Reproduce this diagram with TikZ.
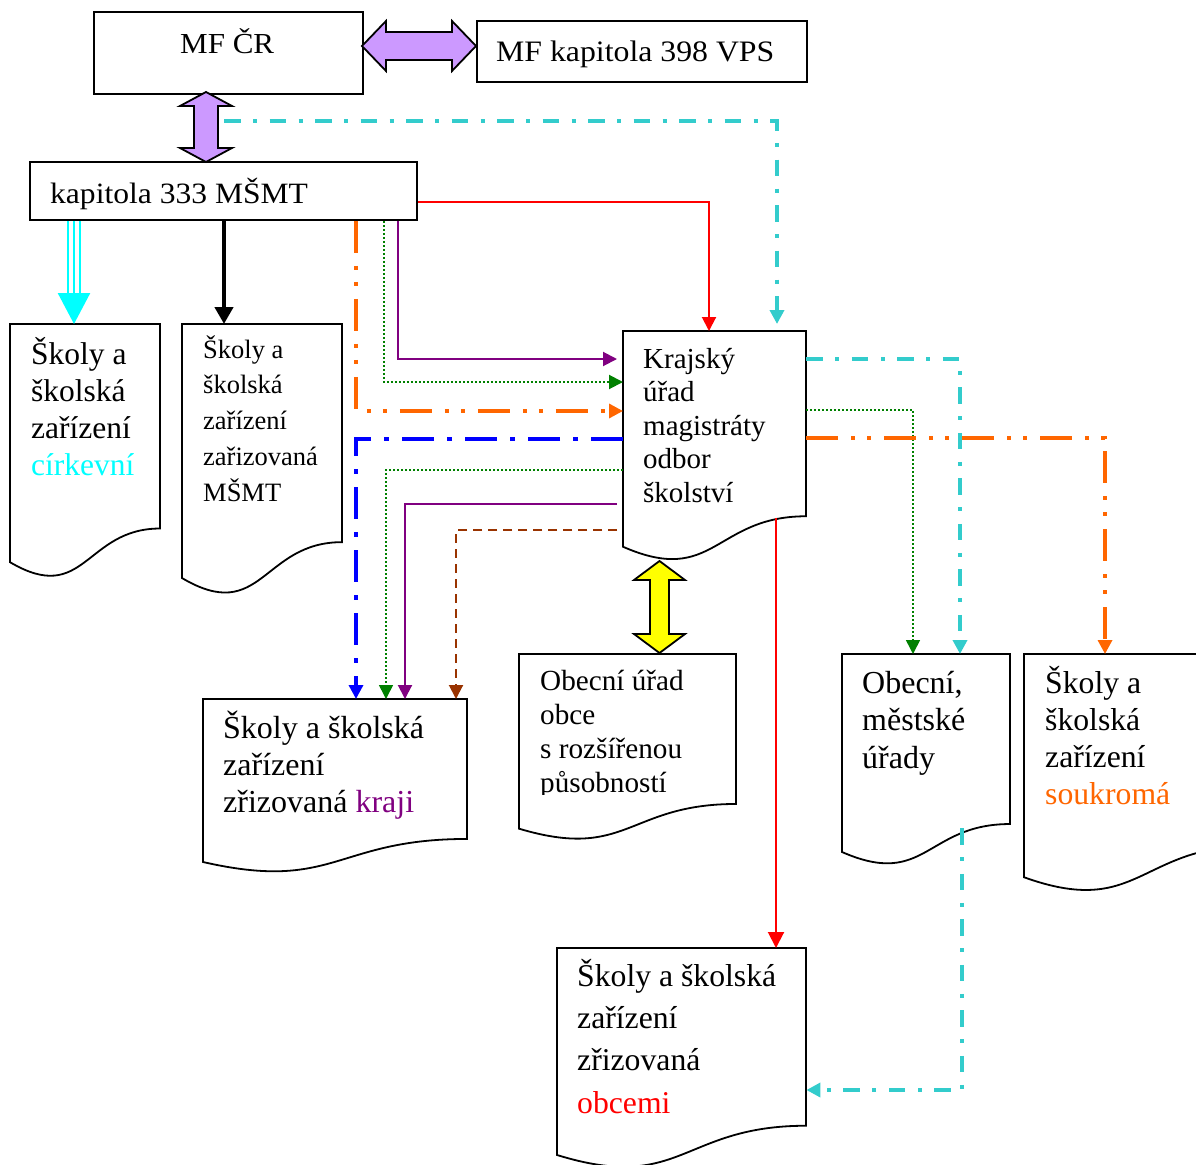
\documentclass[tikz,border=0pt]{standalone}
\usepackage{fontspec}
\setmainfont{Liberation Serif}
\usepackage{graphicx}
\usetikzlibrary{arrows.meta,calc}
\definecolor{lav}{HTML}{CC99FF}
\definecolor{tealc}{HTML}{33CCCC}
\definecolor{orng}{HTML}{FF6600}
\definecolor{grn}{HTML}{008000}
\definecolor{purp}{HTML}{800080}
\definecolor{brwn}{HTML}{993300}
\definecolor{cyn}{HTML}{00FFFF}
\definecolor{blu}{HTML}{0000FF}
\definecolor{rd}{HTML}{FF0000}
\definecolor{yel}{HTML}{FFFF00}
\newcommand\docnode[5]{% name, x, y, w, h
  \draw[docframe] (#2,#3) -- ({#2+#4},#3) -- ({#2+#4},{#3+0.802*#5})
    .. controls ({#2+0.5*#4},{#3+0.802*#5}) and ({#2+0.5*#4},{#3+1.1075*#5}) .. (#2,{#3+0.934*#5}) -- cycle;
  \node[inner sep=0pt, minimum width=#4, minimum height={0.802*#5}, anchor=north west] (#1) at (#2,#3) {};
}
\tikzset{
  docframe/.style={draw=black, line width=1.8pt, fill=white},
  boxnode/.style={draw=black, line width=1.8pt, fill=white, inner sep=0pt, anchor=north west},
  txt/.style={anchor=base west, align=left, inner sep=0pt},
  tip/.style={-{Triangle[width=14pt,length=14pt]}},
  bigarrow/.style={draw=black, line width=1.8pt, line join=miter},
  cyanline/.style={draw=tealc, line width=3.8pt, dash pattern=on 16.5pt off 12.5pt on 4pt off 12.5pt, tip, tealc},
  orangeline/.style={draw=orng, line width=3.3pt, dash pattern=on 32pt off 13pt on 4pt off 12pt on 4pt off 13pt, tip, orng},
  blueline/.style={draw=blu, line width=3.3pt, dash pattern=on 32pt off 13pt on 5pt off 13pt, tip, blu},
  greenline/.style={draw=grn, line width=2pt, dash pattern=on 2pt off 2pt, tip, grn},
  purpleline/.style={draw=purp, line width=2pt, tip, purp},
  redline/.style={draw=rd, line width=2pt, tip, rd},
  brownline/.style={draw=brwn, line width=2pt, dash pattern=on 9pt off 6pt, tip, brwn},
}
\begin{document}
\begin{tikzpicture}[x=1pt,y=-1pt]
\clip (0,0) rectangle (1196,1164);
\fill[white] (0,0) rectangle (1196,1164);

% rectangular boxes
\node[boxnode, minimum width=269, minimum height=82] (mf) at (93,11) {};
\node[txt, font=\fontsize{29}{34}\selectfont] (mftxt) at (180,53) {\scalebox{1.07}[1]{MF ČR}};
\node[boxnode, minimum width=330, minimum height=61] (vps) at (476,20) {};
\node[txt, font=\fontsize{29.7}{34}\selectfont] (vpstxt) at (496,62) {\scalebox{1.07}[1]{MF kapitola 398 VPS}};
\node[boxnode, minimum width=387, minimum height=58] (k333) at (29,161) {};
\node[txt, font=\fontsize{29.5}{34}\selectfont] (k333txt) at (50,203) {\scalebox{1.07}[1]{kapitola 333 MŠMT}};

% big double arrows
\draw[bigarrow, fill=lav] (362,46) -- (386,21) -- (386,32) -- (452,32) -- (452,21) -- (476,46)
  -- (452,71) -- (452,60) -- (386,60) -- (386,71) -- cycle;
\draw[bigarrow, fill=lav] (206,92) -- (232,106) -- (218,106) -- (218,148) -- (232,148) -- (206,162)
  -- (180,148) -- (194,148) -- (194,106) -- (180,106) -- cycle;
\coordinate (cystart) at (224,121);

% documents (text nodes anchored at the baseline of their last line)
\docnode{d1}{10}{324}{150}{255}
\node[txt, font=\fontsize{31.5}{37}\selectfont] (d1txt) at (31,475) {Školy a\\školská\\zařízení\\\textcolor{cyn}{církevní}};
\docnode{d2}{182}{324}{160}{272}
\node[txt, font=\fontsize{26.5}{35.7}\selectfont] (d2txt) at (203,501) {Školy a\\školská\\zařízení\\zařizovaná\\MŠMT};
\docnode{kr}{623}{331}{183}{231}
\node[txt, font=\fontsize{29}{33.5}\selectfont] (krtxt) at (643,502) {Krajský\\úřad\\magistráty\\odbor\\školství};
\docnode{dk}{203}{699}{264}{174.5}
\node[txt, font=\fontsize{32}{37}\selectfont] (dktxt) at (223,812) {Školy a školská\\zařízení\\zřizovaná \textcolor{purp}{kraji}};
\docnode{dorp}{519}{654}{217}{187}
\begin{scope}
\clip (519,654) rectangle (736,794);
\node[txt, font=\fontsize{29.2}{33.7}\selectfont] (dorptxt) at (540,792) {Obecní úřad\\obce\\s rozšířenou\\působností};
\end{scope}
\docnode{dobc}{557}{948}{249}{221.6}
\node[txt, font=\fontsize{31.7}{42.3}\selectfont] (dobctxt) at (577,1113) {Školy a školská\\zařízení\\zřizovaná\\\textcolor{rd}{obcemi}};
\docnode{dmest}{842}{654}{168}{212}
\node[txt, font=\fontsize{32}{37.5}\selectfont] (dmesttxt) at (862,768) {Obecní,\\městské\\úřady};
\docnode{dsouk}{1024}{654}{230}{239}
\node[txt, font=\fontsize{31.7}{37}\selectfont] (dsouktxt) at (1045,804) {Školy a\\školská\\zařízení\\\textcolor{orng}{soukromá}};

% yellow double arrow
\draw[bigarrow, fill=yel] (659.5,561) -- (685,580) -- (669,580) -- (669,634) -- (685,634) -- (659.5,653)
  -- (634,634) -- (650,634) -- (650,580) -- (634,580) -- cycle;

% cyan triple arrow
\draw[cyn, line width=2.5pt] ($(k333.south west)+(39,0)$) -- ++(0,75);
\draw[cyn, line width=2.5pt] ($(k333.south west)+(51,0)$) -- ++(0,75);
\draw[cyn, line width=2.5pt, -{Triangle[width=32pt,length=31pt]}] ($(k333.south west)+(45,0)$) -- ($(d1.north west)+(64,0)$);
% black arrow
\draw[black, line width=4.5pt, -{Triangle[width=18pt,length=17pt]}] ($(k333.south west)+(195,0)$) -- ($(d2.north west)+(42,0)$);

% from kapitola 333 to Krajsky urad
\draw[redline] ($(k333.north east)+(0,41)$) -| ($(kr.north west)+(86,0)$);
\draw[purpleline] ($(k333.south west)+(369,0)$) |- ($(kr.north west)+(-6,28)$);
\draw[greenline] ($(k333.south west)+(355,0)$) |- ($(kr.north west)+(0,51)$);
\draw[orangeline] ($(k333.south west)+(327,0)$) |- ($(kr.north west)+(0,80)$);
\draw[cyanline] (cystart) -| ($(kr.north west)+(154,-7)$);

% from Krajsky urad to kraji
\draw[blueline] ($(kr.north west)+(0,108)$) -| ($(dk.north west)+(153,0)$);
\draw[greenline, line width=1.6pt] ($(kr.north west)+(0,139)$) -| ($(dk.north west)+(183,0)$);
\draw[purpleline] ($(kr.north west)+(-6,173)$) -| ($(dk.north west)+(202,0)$);
\draw[brownline] ($(kr.north west)+(-6,199)$) -| ($(dk.north west)+(253,0)$);

% from Krajsky urad to the right
\draw[cyanline] ($(kr.north east)+(0,28)$) -| ($(dmest.north west)+(118,0)$);
\draw[greenline, line width=1.6pt] ($(kr.north east)+(0,79)$) -| ($(dmest.north west)+(71,0)$);
\draw[orangeline] ($(kr.north east)+(0,107)$) -| ($(dsouk.north west)+(81,0)$);
\draw[redline, -{Triangle[width=16pt,length=16pt]}] ($(kr.south west)+(153,1)$) -- ($(dobc.north west)+(219,0)$);
\draw[cyanline] ($(dmest.south west)+(120,4)$) |- ($(dobc.north east)+(0,142)$);
\end{tikzpicture}
\end{document}
